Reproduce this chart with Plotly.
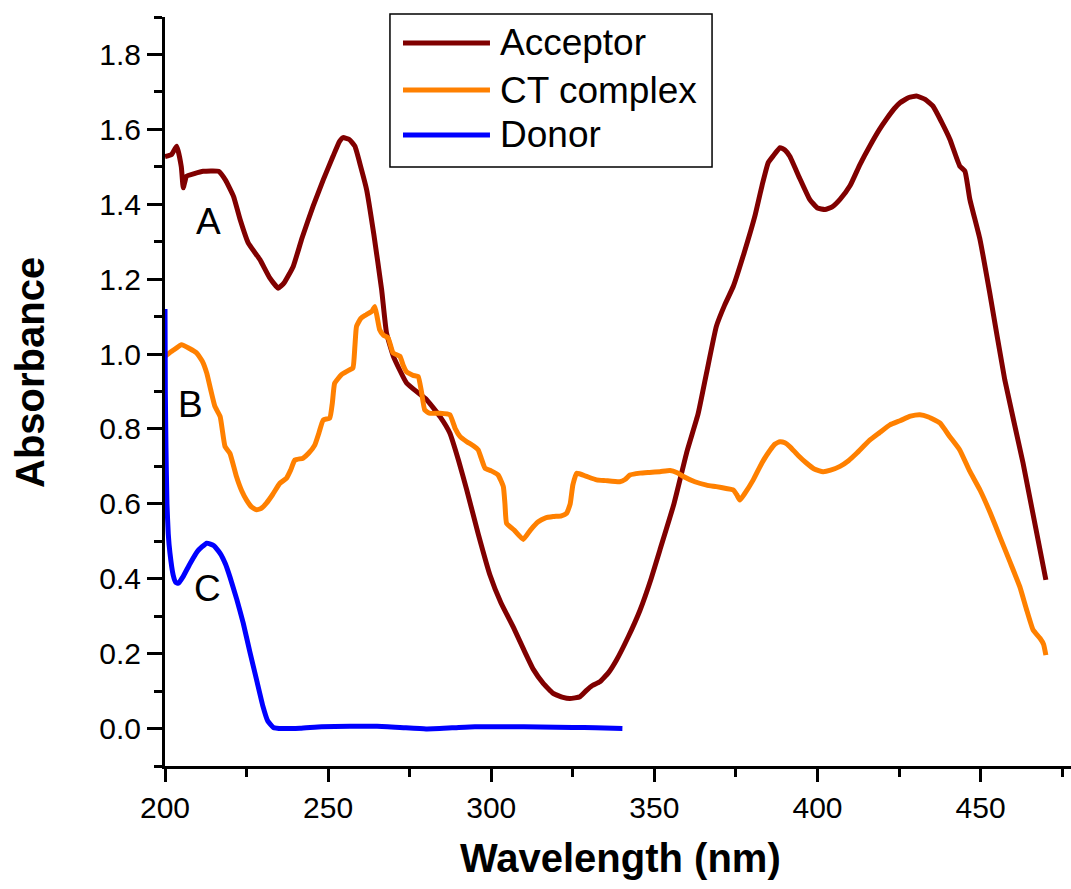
import plotly.graph_objects as go

# ---------------- data ----------------
acc_wl = [200, 202, 203.6, 205.0, 205.6, 206.6, 209, 211.7, 216.4, 218.5, 221, 223, 225.5, 229.1, 232,
          234.7, 236.5, 239.3, 242, 245.4, 248.5, 251.5, 253.5, 254.6, 256.5, 258.2, 260, 261.8, 264,
          266.4, 267.9, 270, 274.1, 280.2, 284.3, 287.3, 290, 292.4, 296, 299.6, 303, 306.8, 310, 312.9,
          316, 319, 322, 324.1, 327.2, 329.2, 331, 333.3, 336, 338.4, 342, 345.6, 349, 351.7, 356, 360,
          363.4, 366, 369, 371.5, 374.2, 377.5, 380.8, 383, 384.9, 386.5, 388.5, 390, 391.5, 394.5,
          397.6, 400, 402.3, 404.5, 406.9, 410, 413, 416, 419, 421.1, 423.5, 425.3, 428, 430.3, 433,
          435.4, 438, 440.6, 443.6, 445.2, 446.7, 449.8, 452.8, 457.4, 463, 470]
acc_abs = [1.527, 1.533, 1.555, 1.50, 1.444, 1.475, 1.482, 1.488, 1.488, 1.465, 1.421, 1.36, 1.297, 1.252,
           1.205, 1.176, 1.19, 1.234, 1.31, 1.395, 1.465, 1.528, 1.568, 1.578, 1.573, 1.555, 1.50, 1.439,
           1.32, 1.172, 1.056, 0.994, 0.922, 0.878, 0.833, 0.789, 0.715, 0.64, 0.52, 0.41, 0.335, 0.27,
           0.21, 0.158, 0.12, 0.094, 0.083, 0.08, 0.085, 0.102, 0.115, 0.125, 0.15, 0.183, 0.245, 0.316,
           0.40, 0.477, 0.60, 0.74, 0.84, 0.95, 1.074, 1.13, 1.181, 1.27, 1.368, 1.45, 1.511, 1.53,
           1.551, 1.545, 1.528, 1.47, 1.413, 1.39, 1.386, 1.393, 1.413, 1.45, 1.506, 1.555, 1.60, 1.627,
           1.655, 1.671, 1.685, 1.689, 1.68, 1.662, 1.62, 1.573, 1.502, 1.488, 1.413, 1.306, 1.163,
           0.931, 0.709, 0.397]

ct_wl = [200, 202.5, 205.1, 207.5, 209.7, 211.5, 212.8, 214, 215.3, 216.9, 218.4, 219.9, 221.9, 223.5,
         225, 226.5, 228.1, 229.5, 231.1, 233, 235.2, 237.2, 238.5, 239.8, 242.3, 244, 245.9, 247.2,
         248.5, 250.5, 251.3, 252, 254.1, 256, 257.6, 258.2, 258.7, 260, 261.7, 263.5, 264.3, 265,
         265.8, 267, 268.4, 269.9, 272, 273, 274, 276, 277.6, 278.6, 279.6, 281, 284.3, 287.3, 289,
         290.4, 292.5, 294.5, 296, 297, 298.1, 300, 302.1, 303.7, 304.2, 304.7, 307, 309.8, 312,
         314.4, 316.5, 319, 321.5, 323.1, 324.2, 325, 326.2, 329, 332.3, 335, 339.4, 341, 342.5,
         345.6, 348.5, 351.7, 354.8, 357, 358.9, 362.4, 366, 369, 372, 374.2, 375.2, 376.2, 377.5,
         380.3, 383, 385.5, 387, 388.5, 390, 391.5, 394, 396.6, 399, 401.7, 404, 406.9, 409.5, 412,
         416, 419, 422.2, 425.3, 428.5, 431.4, 434, 437.5, 440.5, 443.6, 446.5, 449.8, 453, 455.9,
         459, 462, 464, 466.1, 468.2, 469.3, 470]
ct_abs = [0.994, 1.01, 1.025, 1.015, 1.003, 0.98, 0.949, 0.905, 0.86, 0.833, 0.753, 0.735, 0.673, 0.635,
          0.61, 0.592, 0.584, 0.588, 0.602, 0.625, 0.655, 0.668, 0.69, 0.717, 0.722, 0.735, 0.757, 0.79,
          0.824, 0.829, 0.87, 0.922, 0.945, 0.955, 0.963, 1.02, 1.074, 1.095, 1.105, 1.115, 1.127, 1.10,
          1.065, 1.05, 1.043, 1.003, 0.994, 0.97, 0.953, 0.943, 0.94, 0.90, 0.851, 0.842, 0.842, 0.838,
          0.80, 0.78, 0.766, 0.755, 0.744, 0.72, 0.695, 0.688, 0.677, 0.646, 0.60, 0.548, 0.53, 0.505,
          0.53, 0.552, 0.562, 0.566, 0.568, 0.575, 0.60, 0.65, 0.682, 0.674, 0.664, 0.662, 0.659, 0.665,
          0.677, 0.682, 0.684, 0.686, 0.689, 0.683, 0.673, 0.659, 0.65, 0.646, 0.641, 0.637, 0.625,
          0.61, 0.625, 0.664, 0.71, 0.744, 0.76, 0.766, 0.763, 0.753, 0.73, 0.709, 0.693, 0.686, 0.69,
          0.70, 0.715, 0.735, 0.77, 0.79, 0.811, 0.822, 0.834, 0.838, 0.832, 0.816, 0.78, 0.744, 0.69,
          0.637, 0.575, 0.512, 0.445, 0.379, 0.32, 0.263, 0.241, 0.225, 0.196]

don_wl = [200, 200.1, 200.3, 200.6, 201, 201.5, 202.5, 203.3, 204.1, 205.5, 207.7, 210, 212.8, 215,
          216.9, 218.5, 219.9, 222, 224, 226, 228.1, 230, 231.5, 233.2, 236, 241.4, 248, 256.7, 265,
          272, 280, 288, 295, 305, 315, 325, 332, 340.2]
don_abs = [1.12, 0.9, 0.75, 0.6, 0.52, 0.47, 0.41, 0.39, 0.388, 0.405, 0.441, 0.474, 0.495, 0.488,
           0.468, 0.44, 0.405, 0.345, 0.281, 0.205, 0.129, 0.06, 0.02, 0.003, 0.0, 0.001, 0.005, 0.006,
           0.006, 0.003, -0.001, 0.002, 0.005, 0.005, 0.004, 0.003, 0.002, 0.0]

series_names = ["Acceptor", "CT complex", "Donor"]
series_colors = ["#800000", "#FF8000", "#0000FF"]
curve_labels = ["A", "B", "C"]
curve_label_pos = [(213.2, 1.354), (207.7, 0.865), (212.9, 0.375)]

x_tick_vals = [200, 250, 300, 350, 400, 450]
y_tick_vals = [0.0, 0.2, 0.4, 0.6, 0.8, 1.0, 1.2, 1.4, 1.6, 1.8]

# ---------------- figure ----------------
FONT = "Liberation Sans, Arial, sans-serif"
fig = go.Figure()
for wl, ab, name, col in zip([acc_wl, ct_wl, don_wl], [acc_abs, ct_abs, don_abs],
                             series_names, series_colors):
    fig.add_trace(go.Scatter(x=wl, y=ab, mode="lines", name=name, showlegend=False,
                             line=dict(color=col, width=5, shape="spline", smoothing=0.4)))

annotations = []
for txt, (lx, ly) in zip(curve_labels, curve_label_pos):
    annotations.append(dict(x=lx, y=ly, xref="x", yref="y", text=txt, showarrow=False,
                            font=dict(family=FONT, size=37, color="black")))

# manual legend (paper coordinates)
shapes = [dict(type="rect", xref="paper", yref="paper", x0=0.2483, x1=0.6038, y0=0.7997, y1=1.004,
               line=dict(color="black", width=1.5), fillcolor="white", layer="above")]
leg_y = [0.9653, 0.9025, 0.8425]
for name, col, yy in zip(series_names, series_colors, leg_y):
    shapes.append(dict(type="line", xref="paper", yref="paper", x0=0.2627, x1=0.3587, y0=yy, y1=yy,
                       line=dict(color=col, width=5), layer="above"))
    annotations.append(dict(x=0.3675, y=yy, xref="paper", yref="paper", text=name, showarrow=False,
                            xanchor="left", yanchor="middle",
                            font=dict(family=FONT, size=37, color="black")))

annotations.append(dict(x=0.503, y=-0.1228, xref="paper", yref="paper", text="<b>Wavelength (nm)</b>",
                        showarrow=False, xanchor="center", yanchor="middle",
                        font=dict(family=FONT, size=40, color="black")))
annotations.append(dict(x=-0.149, y=0.5247, xref="paper", yref="paper", text="<b>Absorbance</b>",
                        showarrow=False, xanchor="center", yanchor="middle", textangle=-90,
                        font=dict(family=FONT, size=40, color="black")))

fig.update_layout(
    width=1071, height=889,
    margin=dict(l=165, r=0, t=17, b=123),
    paper_bgcolor="white", plot_bgcolor="white",
    shapes=shapes, annotations=annotations,
    xaxis=dict(range=[200, 477.7], tickvals=x_tick_vals, ticktext=[str(v) for v in x_tick_vals],
               showgrid=False, zeroline=False, showline=True, linecolor="black", linewidth=3,
               ticks="outside", ticklen=13, tickwidth=2.5, tickcolor="black",
               tickfont=dict(family=FONT, size=30, color="black"),
               minor=dict(tickvals=[225, 275, 325, 375, 425, 475], ticks="outside", ticklen=8,
                          tickwidth=2.5, tickcolor="black")),
    yaxis=dict(range=[-0.1, 1.9], tickvals=y_tick_vals, ticktext=[f"{v:.1f}" for v in y_tick_vals],
               showgrid=False, zeroline=False, showline=True, linecolor="black", linewidth=3,
               ticks="outside", ticklen=15, tickwidth=2.5, tickcolor="black",
               tickfont=dict(family=FONT, size=30, color="black"),
               minor=dict(tickvals=[-0.1, 0.1, 0.3, 0.5, 0.7, 0.9, 1.1, 1.3, 1.5, 1.7, 1.9],
                          ticks="outside", ticklen=8, tickwidth=2.5, tickcolor="black")),
)

fig.write_html("out.html")
